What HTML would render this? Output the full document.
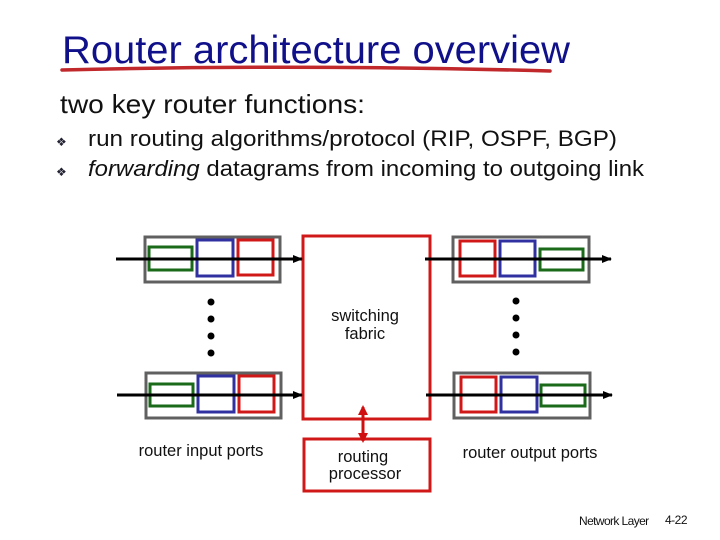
<!DOCTYPE html>
<html><head><meta charset="utf-8"><style>
html,body{margin:0;padding:0;background:#fff;}
svg{display:block;font-family:"Liberation Sans",Arial,sans-serif;}
</style></head><body>
<svg width="720" height="540" viewBox="0 0 720 540" xmlns="http://www.w3.org/2000/svg">
<defs>
<marker id="ah" markerWidth="10" markerHeight="8" refX="9" refY="4" orient="auto" markerUnits="userSpaceOnUse">
<path d="M0,0 L10,4 L0,8 Z" fill="#000"/></marker>
<marker id="rh" markerWidth="10" markerHeight="10" refX="8" refY="5" orient="auto" markerUnits="userSpaceOnUse">
<path d="M0,0 L10,5 L0,10 Z" fill="#d01010"/></marker>
</defs>
<text x="62" y="63" font-size="39" fill="#10108a" textLength="508" lengthAdjust="spacingAndGlyphs">Router architecture overview</text>
<path d="M62,70 Q300,64 550,71" stroke="#c0282c" stroke-width="3.5" fill="none" stroke-linecap="round"/>
<text x="60" y="113" font-size="26" fill="#111" textLength="305" lengthAdjust="spacingAndGlyphs">two key router functions:</text>
<text x="56" y="146" font-size="12" fill="#223">❖</text>
<text x="56" y="176" font-size="12" fill="#223">❖</text>
<text x="88" y="146" font-size="22.5" fill="#111" textLength="529" lengthAdjust="spacingAndGlyphs">run routing algorithms/protocol (RIP, OSPF, BGP)</text>
<text x="88" y="176" font-size="22.5" fill="#111" textLength="556" lengthAdjust="spacingAndGlyphs"><tspan font-style="italic">forwarding</tspan> datagrams from incoming to outgoing link</text>

<g fill="none" stroke-width="3">
<rect x="145" y="237" width="135" height="45" stroke="#606060"/>
<rect x="149" y="247" width="43" height="23" stroke="#1a6a1a"/>
<rect x="197" y="240" width="36" height="36" stroke="#3030a0"/>
<rect x="238" y="240" width="35" height="35" stroke="#d01818"/>
<rect x="146" y="373" width="135" height="45" stroke="#606060"/>
<rect x="150" y="384" width="43" height="22" stroke="#1a6a1a"/>
<rect x="198" y="376" width="36" height="36" stroke="#3030a0"/>
<rect x="239" y="376" width="35" height="36" stroke="#d01818"/>
<rect x="453" y="237" width="136" height="45" stroke="#606060"/>
<rect x="460" y="241" width="35" height="35" stroke="#d01818"/>
<rect x="500" y="241" width="35" height="35" stroke="#3030a0"/>
<rect x="540" y="249" width="43" height="21" stroke="#1a6a1a"/>
<rect x="454" y="373" width="136" height="45" stroke="#606060"/>
<rect x="461" y="377" width="35" height="35" stroke="#d01818"/>
<rect x="501" y="377" width="36" height="35" stroke="#3030a0"/>
<rect x="541" y="385" width="44" height="21" stroke="#1a6a1a"/>
<rect x="303" y="236" width="127" height="183" stroke="#d01818"/>
<rect x="304" y="439" width="126" height="52" stroke="#d01818"/>
</g>
<g stroke="#000" stroke-width="3">
<line x1="116" y1="259" x2="302" y2="259" marker-end="url(#ah)"/>
<line x1="117" y1="395" x2="302" y2="395" marker-end="url(#ah)"/>
<line x1="425" y1="259" x2="611" y2="259" marker-end="url(#ah)"/>
<line x1="426" y1="395" x2="612" y2="395" marker-end="url(#ah)"/>
</g>
<g fill="#000">
<circle cx="211" cy="302" r="3.5"/><circle cx="211" cy="319" r="3.5"/><circle cx="211" cy="336" r="3.5"/><circle cx="211" cy="353" r="3.5"/>
<circle cx="516" cy="301" r="3.5"/><circle cx="516" cy="318" r="3.5"/><circle cx="516" cy="335" r="3.5"/><circle cx="516" cy="352" r="3.5"/>
</g>
<line x1="363" y1="418" x2="363" y2="430" stroke="#d01010" stroke-width="3"/>
<line x1="363" y1="420" x2="363" y2="407" stroke="#d01010" stroke-width="3" marker-end="url(#rh)"/>
<line x1="363" y1="428" x2="363" y2="441" stroke="#d01010" stroke-width="3" marker-end="url(#rh)"/>
<g font-size="16.5" fill="#111" text-anchor="middle">
<text x="365" y="321">switching</text>
<text x="365" y="339">fabric</text>
<text x="363" y="462">routing</text>
<text x="365" y="479">processor</text>
<text x="201" y="456">router input ports</text>
<text x="530" y="458">router output ports</text>
</g>
<text x="579" y="525" font-size="12" fill="#111" letter-spacing="-0.6">Network Layer</text>
<text x="665" y="524" font-size="12" fill="#111" letter-spacing="-0.5">4-22</text>
</svg>
</body></html>
